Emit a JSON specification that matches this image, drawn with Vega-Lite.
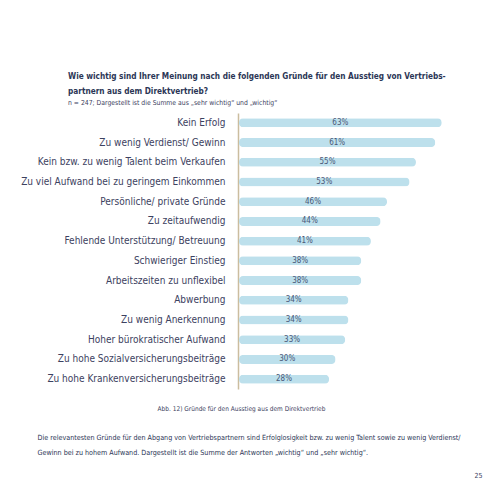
{
  "$schema": "https://vega.github.io/schema/vega-lite/v6.json",
  "autosize": "none",
  "width": 222,
  "height": 276,
  "padding": {"left": 239, "top": 113, "right": 39, "bottom": 111},
  "background": "white",
  "config": {
    "view": {"stroke": null},
    "font": "Liberation Sans Narrow, DejaVu Sans Condensed, Roboto, sans-serif"
  },
  "title": {
    "text": ["Wie wichtig sind Ihrer Meinung nach die folgenden Gründe für den Ausstieg von Vertriebs-", "partnern aus dem Direktvertrieb?"],
    "subtitle": "n = 247; Dargestellt ist die Summe aus „sehr wichtig“ und „wichtig“",
    "anchor": "start",
    "frame": "group",
    "dx": -171,
    "fontSize": 8.2,
    "fontWeight": "bold",
    "lineHeight": 15,
    "color": "#2c3656",
    "subtitleFontSize": 6.8,
    "subtitleColor": "#3c4160",
    "subtitlePadding": 4,
    "offset": 5
  },
  "data": {
    "values": [
      {"reason": "Kein Erfolg", "value": 63},
      {"reason": "Zu wenig Verdienst/ Gewinn", "value": 61},
      {"reason": "Kein bzw. zu wenig Talent beim Verkaufen", "value": 55},
      {"reason": "Zu viel Aufwand bei zu geringem Einkommen", "value": 53},
      {"reason": "Persönliche/ private Gründe", "value": 46},
      {"reason": "Zu zeitaufwendig", "value": 44},
      {"reason": "Fehlende Unterstützung/ Betreuung", "value": 41},
      {"reason": "Schwieriger Einstieg", "value": 38},
      {"reason": "Arbeitszeiten zu unflexibel", "value": 38},
      {"reason": "Abwerbung", "value": 34},
      {"reason": "Zu wenig Anerkennung", "value": 34},
      {"reason": "Hoher bürokratischer Aufwand", "value": 33},
      {"reason": "Zu hohe Sozialversicherungsbeiträge", "value": 30},
      {"reason": "Zu hohe Krankenversicherungsbeiträge", "value": 28}
    ]
  },
  "layer": [
    {
      "mark": {"type": "bar", "color": "#bde0ec", "cornerRadius": 4, "size": 9},
      "encoding": {
        "x": {
          "field": "value",
          "type": "quantitative",
          "scale": {"domain": [0, 69], "nice": false},
          "axis": {
            "title": "Abb. 12) Gründe für den Ausstieg aus dem Direktvertrieb",
            "labels": false, "ticks": false, "domain": false, "grid": false,
            "titleX": 2, "titleY": 19, "titleAlign": "center", "titleBaseline": "middle",
            "titleFontSize": 6.5, "titleFontWeight": "normal", "titleColor": "#3c4160"
          }
        },
        "y": {
          "field": "reason",
          "type": "nominal",
          "sort": null,
          "scale": {"paddingInner": 0.5, "paddingOuter": 0.25},
          "axis": {
            "title": ["Die relevantesten Gründe für den Abgang von Vertriebspartnern sind Erfolglosigkeit bzw. zu wenig Talent sowie zu wenig Verdienst/", "Gewinn bei zu hohem Aufwand. Dargestellt ist die Summe der Antworten „wichtig“ und „sehr wichtig“."],
            "titleAngle": 0, "titleAlign": "left", "titleBaseline": "top",
            "titleX": -201, "titleY": 320, "titleLineHeight": 15,
            "titleFontSize": 7.15, "titleFontWeight": "normal", "titleColor": "#2c3656",
            "ticks": false, "domainColor": "#cbbd9f", "domainWidth": 1.5, "offset": 1,
            "labelPadding": 13, "labelFontSize": 10, "labelColor": "#3c4160", "labelLimit": 300
          }
        }
      }
    },
    {
      "transform": [{"calculate": "datum.value / 2", "as": "mid"}, {"calculate": "datum.value + '%'", "as": "lbl"}],
      "mark": {"type": "text", "fontSize": 8, "color": "#4a5878"},
      "encoding": {
        "x": {"field": "mid", "type": "quantitative"},
        "y": {"field": "reason", "type": "nominal", "sort": null, "axis": null},
        "text": {"field": "lbl"}
      }
    },
    {
      "mark": {"type": "point", "opacity": 0},
      "encoding": {
        "y": {
          "field": "reason",
          "type": "nominal",
          "sort": null,
          "axis": {
            "orient": "right", "title": "25", "labels": false, "ticks": false, "domain": false,
            "titleAngle": 0, "titleAlign": "center", "titleBaseline": "middle",
            "titleX": 17, "titleY": 362, "titleFontSize": 7, "titleFontWeight": "normal", "titleColor": "#3c4160"
          }
        }
      }
    }
  ],
  "resolve": {"axis": {"y": "independent"}}
}
